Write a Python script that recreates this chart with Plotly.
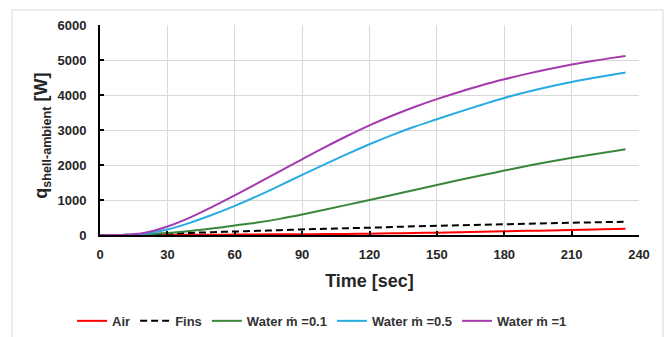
import plotly.graph_objects as go

# Time axis (s)
time_s = [0, 10, 20, 30, 40, 50, 60, 70, 80, 90, 100, 110, 120, 130, 140,
          150, 160, 170, 180, 190, 200, 210, 220, 230, 234]

# Heat flow from shell to ambient (W) for each cooling configuration
q_air = [0, 0, 1, 3, 6, 9, 12, 16, 20, 23, 27, 32, 38, 47, 56,
         66, 79, 92, 105, 118, 130, 143, 158, 173, 180]
q_fins = [0, 2, 15, 40, 60, 80, 100, 118, 138, 160, 177, 193, 208, 228, 247,
          265, 278, 292, 305, 320, 335, 350, 362, 375, 380]
q_water_01 = [0, 1, 16, 56, 116, 186, 271, 356, 461, 586, 721, 861, 1003, 1145, 1287,
              1429, 1569, 1706, 1840, 1970, 2092, 2205, 2310, 2410, 2450]
q_water_05 = [0, 2, 37, 157, 347, 577, 832, 1112, 1412, 1717, 2017, 2312, 2592, 2852, 3092,
              3307, 3519, 3721, 3916, 4086, 4236, 4371, 4491, 4601, 4643]
q_water_1 = [0, 3, 63, 243, 498, 803, 1133, 1473, 1818, 2163, 2503, 2828, 3133, 3408, 3658,
             3883, 4088, 4278, 4448, 4603, 4743, 4871, 4981, 5078, 5114]

x_ticks = [0, 30, 60, 90, 120, 150, 180, 210, 240]
y_ticks = [0, 1000, 2000, 3000, 4000, 5000, 6000]

series = [
    ("Air", q_air, "#FF0000", "solid"),
    ("Fins", q_fins, "#000000", "7px,4px"),
    ("Water \u1e41 =0.1", q_water_01, "#3A863A", "solid"),
    ("Water \u1e41 =0.5", q_water_05, "#27ABE2", "solid"),
    ("Water \u1e41 =1", q_water_1, "#A43AAE", "solid"),
]

fig = go.Figure()
for name, vals, color, dash in series:
    fig.add_trace(go.Scatter(
        x=time_s, y=vals, name=name, mode="lines",
        line=dict(color=color, width=2, dash=dash, shape="spline", smoothing=1.0),
    ))

font_family = "Liberation Sans, Arial, sans-serif"
text_dark = "#262626"

fig.update_layout(
    width=670, height=337,
    margin=dict(l=100, r=31, t=24.5, b=102, pad=0, autoexpand=False),
    paper_bgcolor="white", plot_bgcolor="white",
    font=dict(family=font_family, size=13, color=text_dark, weight="bold"),
    showlegend=True,
    legend=dict(
        orientation="h", x=0.412, xanchor="center", y=-0.409, yanchor="middle",
        font=dict(family=font_family, size=13, color="#333333", weight="bold"),
        itemwidth=30, bgcolor="rgba(0,0,0,0)",
    ),
    xaxis=dict(
        range=[0, 240], tickvals=x_ticks, ticktext=[str(v) for v in x_ticks],
        showgrid=True, gridcolor="#D9D9D9", gridwidth=1,
        showline=True, linecolor="#000000", linewidth=2,
        ticks="inside", ticklen=4, tickwidth=1.5, tickcolor="#000000",
        zeroline=False, ticklabelstandoff=6,
        tickfont=dict(family=font_family, size=13, color=text_dark, weight="bold"),
        title=dict(text="Time [sec]", standoff=14,
                   font=dict(family=font_family, size=18, color=text_dark, weight="bold")),
    ),
    yaxis=dict(
        range=[0, 6000], tickvals=y_ticks, ticktext=[str(v) for v in y_ticks],
        showgrid=True, gridcolor="#D9D9D9", gridwidth=1,
        showline=True, linecolor="#000000", linewidth=2,
        ticks="inside", ticklen=4, tickwidth=1.5, tickcolor="#000000",
        zeroline=False, ticklabelstandoff=9,
        tickfont=dict(family=font_family, size=13, color=text_dark, weight="bold"),
    ),
    annotations=[dict(
        text="q<sub>shell-ambient</sub> [W]", textangle=-90,
        xref="paper", yref="paper", x=-0.106, y=0.472,
        xanchor="center", yanchor="middle", showarrow=False,
        font=dict(family=font_family, size=18, color=text_dark, weight="bold"),
    )],
    shapes=[dict(
        type="rect", xref="paper", yref="paper",
        x0=-0.1633, x1=1.0445, y0=-0.6, y1=1.072,
        line=dict(color="#D9D9D9", width=1), fillcolor="rgba(0,0,0,0)", layer="below",
    )],
)

fig.write_html("out.html")
